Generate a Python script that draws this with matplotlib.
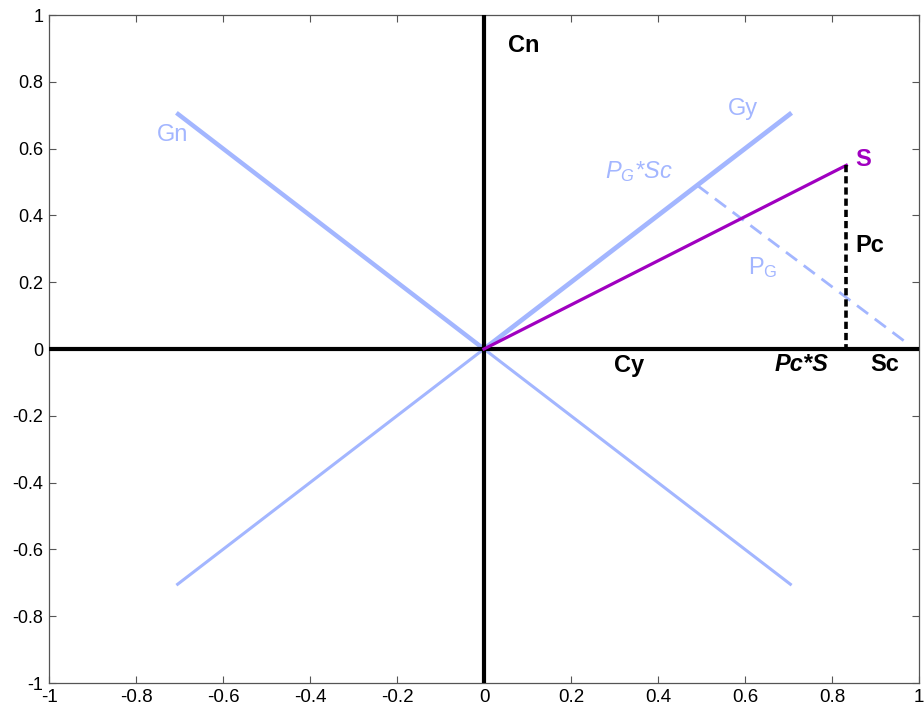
import matplotlib
matplotlib.use("Agg")
import matplotlib.pyplot as plt
import numpy as np

plt.rcParams['font.family'] = ['Liberation Sans', 'DejaVu Sans']
plt.rcParams['mathtext.fontset'] = 'custom'
plt.rcParams['mathtext.rm'] = 'Liberation Sans'
plt.rcParams['mathtext.it'] = 'Liberation Sans:italic'

# data
r = np.sqrt(0.5)
gy_x = [0, r]; gy_y = [0, r]
gn_x = [-r, 0]; gn_y = [r, 0]
g_lower1_x = [-r, 0]; g_lower1_y = [-r, 0]
g_lower2_x = [0, r]; g_lower2_y = [0, -r]
s_x = [0, 0.833]; s_y = [0, 0.55]
pc_x = [0.833, 0.833]; pc_y = [0.55, 0]
pg_x = [0.49, 0.975]; pg_y = [0.49, 0.015]
cn_x = [0, 0]; cn_y = [-1, 1]
cy_x = [-1, 1]; cy_y = [0, 0]
ticks = [-1, -0.8, -0.6, -0.4, -0.2, 0, 0.2, 0.4, 0.6, 0.8, 1]
tick_labels = ['-1', '-0.8', '-0.6', '-0.4', '-0.2', '0', '0.2', '0.4', '0.6', '0.8', '1']

blue = '#a3b6ff'
purple = '#a000c0'

fig = plt.figure(figsize=(9.24, 7.12), dpi=100)
ax = fig.add_axes([49/924, 1-683/712, 870/924, 668/712])

ax.plot(g_lower1_x, g_lower1_y, color=blue, lw=2.2, solid_capstyle='butt', zorder=2)
ax.plot(g_lower2_x, g_lower2_y, color=blue, lw=2.2, solid_capstyle='butt', zorder=2)
ax.plot(gn_x, gn_y, color=blue, lw=3.2, solid_capstyle='butt', zorder=2)
ax.plot(gy_x, gy_y, color=blue, lw=3.4, solid_capstyle='butt', zorder=2)
ax.plot(pg_x, pg_y, color=blue, lw=2.0, ls=(0, (5, 3)), zorder=2)
ax.plot(cn_x, cn_y, color='black', lw=3.0, solid_capstyle='butt', zorder=3)
ax.plot(cy_x, cy_y, color='black', lw=3.0, solid_capstyle='butt', zorder=3)
ax.plot(s_x, s_y, color=purple, lw=2.3, zorder=4)
ax.plot(pc_x, pc_y, color='black', lw=2.6, ls=(0, (2.0, 1.1)), zorder=4)

fs = 17
ax.text(0.055, 0.91, 'Cn', color='black', fontsize=fs, fontweight='bold', va='center', ha='left')
ax.text(0.56, 0.72, 'Gy', color=blue, fontsize=fs, va='center', ha='left')
ax.text(-0.752, 0.64, 'Gn', color=blue, fontsize=fs, va='center', ha='left')
ax.text(0.853, 0.566, 'S', color=purple, fontsize=fs, fontweight='bold', va='center', ha='left')
ax.text(0.278, 0.53, r'$P_{\mathit{G}}$*Sc', color=blue, fontsize=fs, va='center', ha='left',
        style='italic')
ax.text(0.853, 0.31, 'Pc', color='black', fontsize=fs, fontweight='bold', va='center', ha='left')
ax.text(0.607, 0.245, r'P$_{\mathrm{G}}$', color=blue, fontsize=fs, va='center', ha='left')
ax.text(0.299, -0.048, 'Cy', color='black', fontsize=fs, fontweight='bold', va='center', ha='left')
ax.text(0.669, -0.045, 'Pc*S', color='black', fontsize=fs, style='italic', fontweight='bold',
        va='center', ha='left')
ax.text(0.887, -0.045, 'Sc', color='black', fontsize=fs, fontweight='bold', va='center', ha='left')

ax.set_xlim(-1, 1)
ax.set_ylim(-1, 1)
ax.set_xticks(ticks)
ax.set_xticklabels(tick_labels)
ax.set_yticks(ticks)
ax.set_yticklabels(tick_labels)
ax.tick_params(direction='in', length=5, width=0.8, color='#555555', labelsize=13,
               top=True, right=True)
ax.tick_params(axis='x', pad=4, labelsize=13.5)
ax.tick_params(axis='y', pad=4)
for sp in ax.spines.values():
    sp.set_color('#555555')
    sp.set_linewidth(0.9)

fig.savefig('out.png', dpi=100)
